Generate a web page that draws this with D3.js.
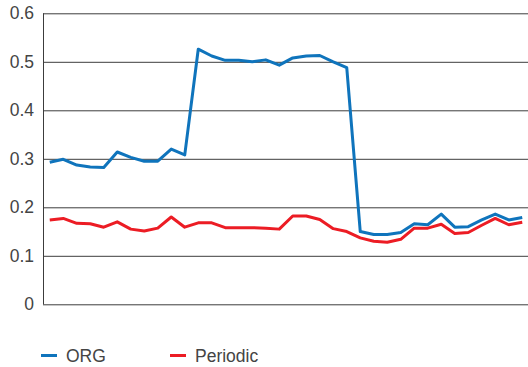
<!DOCTYPE html>
<html><head><meta charset="utf-8">
<script src="https://cdn.jsdelivr.net/npm/d3@7"></script>
<style>html,body{margin:0;padding:0;background:#fff;}svg{display:block;}</style>
</head><body><svg id="c" width="528" height="367"></svg>
<script>
const seriesNames = ["ORG", "Periodic"];
const seriesColors = ["#0f74bc", "#ec1c24"];
const org = [0.293,0.299,0.287,0.283,0.282,0.314,0.303,0.295,0.295,0.320,0.308,0.526,0.512,0.503,0.503,0.500,0.504,0.493,0.508,0.512,0.513,0.500,0.488,0.150,0.144,0.144,0.148,0.166,0.164,0.186,0.159,0.160,0.174,0.186,0.174,0.179];
const periodic = [0.174,0.177,0.167,0.166,0.159,0.170,0.155,0.151,0.157,0.180,0.159,0.168,0.168,0.158,0.158,0.158,0.157,0.155,0.182,0.182,0.175,0.156,0.150,0.137,0.130,0.128,0.134,0.157,0.157,0.165,0.146,0.148,0.163,0.177,0.164,0.169];
const yTicks = [0, 0.1, 0.2, 0.3, 0.4, 0.5, 0.6];
const categories = d3.range(org.length);

const svg = d3.select("#c");
const x = d3.scaleBand().domain(categories).range([43, 529]);
const y = d3.scaleLinear().domain([0, 0.6]).range([304.3, 13.3]);

// gridlines
const yAxis = d3.axisLeft(y).tickValues(yTicks).tickSize(-486).tickPadding(9)
  .tickFormat(d => d === 0 ? "0" : d3.format(".1f")(d));
const g = svg.append("g").attr("transform", "translate(43,0)").call(yAxis);
g.select(".domain").remove();
g.selectAll(".tick line").attr("stroke", "#3c3c3c").attr("stroke-width", 1);
g.selectAll(".tick text").attr("font-family", "'Liberation Sans', Arial, sans-serif")
  .attr("font-size", 17.5).attr("fill", "#444");
svg.append("line").attr("x1", 43.5).attr("x2", 43.5).attr("y1", y(0.6)).attr("y2", y(0))
  .attr("stroke", "#3c3c3c").attr("stroke-width", 1);

const line = d3.line().x((d, i) => x(i) + x.bandwidth() / 2).y(d => y(d));
[org, periodic].forEach((s, k) => {
  svg.append("path").datum(s).attr("d", line).attr("fill", "none")
    .attr("stroke", seriesColors[k]).attr("stroke-width", 3).attr("stroke-linejoin", "round");
});

// legend
const legX = [41, 170];
seriesNames.forEach((n, k) => {
  svg.append("line").attr("x1", legX[k]).attr("x2", legX[k] + 16).attr("y1", 355.5).attr("y2", 355.5)
    .attr("stroke", seriesColors[k]).attr("stroke-width", 3);
  svg.append("text").attr("x", legX[k] + 25).attr("y", 361.5).text(n)
    .attr("font-family", "'Liberation Sans', Arial, sans-serif").attr("font-size", 17.5).attr("fill", "#444");
});
</script></body></html>
